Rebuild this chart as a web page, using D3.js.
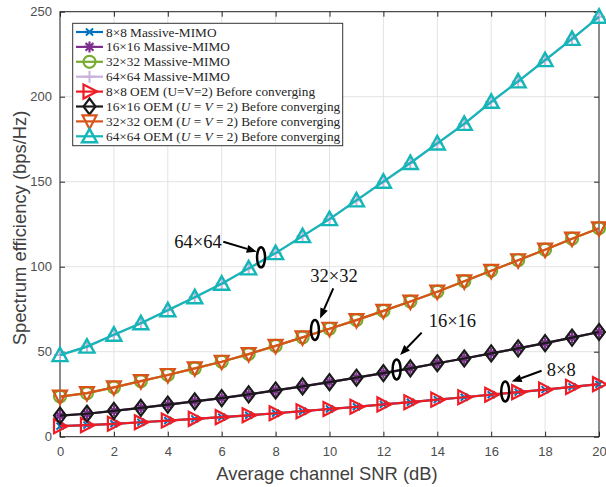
<!DOCTYPE html>
<html><head><meta charset="utf-8">
<script src="https://cdn.jsdelivr.net/npm/d3@7"></script>
<style>body{margin:0;background:#fff}svg{display:block}</style>
</head><body>
<svg id="c" width="606" height="487"></svg>
<script>
const snr = [0,1,2,3,4,5,6,7,8,9,10,11,12,13,14,15,16,17,18,19,20];
const mimo8  = [6.2,6.8,7.6,8.5,9.5,10.5,11.5,12.6,13.8,15,16.3,17.6,19,20.3,21.8,23.2,24.7,26.2,27.7,29.3,30.9];
const mimo16 = [12.4,13.5,15.2,17,18.9,20.8,22.7,24.9,27.2,29.6,32.1,34.7,37.4,40.2,43.2,46,49,52,55,58.3,61.6];
const mimo32 = [23.6,25.6,29,32.7,36.3,40.2,44.1,48.6,53.4,58.4,63.5,68.6,74,79.5,85.3,91.4,97.6,103.8,110,116.5,122.6];
const mimo64 = [48,53,60,66.7,74.4,82,90,99,108,118,128,139,150,161,172.5,184,197,209,221.5,234,247];
const oem8  = [6.2,6.8,7.6,8.5,9.5,10.5,11.5,12.6,13.8,15,16.3,17.6,19,20.3,21.8,23.2,24.7,26.2,27.7,29.3,30.9];
const oem16 = [12.4,13.5,15.2,17,18.9,20.8,22.7,24.9,27.2,29.6,32.1,34.7,37.4,40.2,43.2,46,49,52,55,58.3,61.6];
const oem32 = [23.6,25.6,29,32.7,36.3,40.2,44.1,48.6,53.4,58.4,63.5,68.6,74,79.5,85.3,91.4,97.6,103.8,110,116.5,122.6];
const oem64 = [48,53,60,66.7,74.4,82,90,99,108,118,128,139,150,161,172.5,184,197,209,221.5,234,247];
const xTicks = [0,2,4,6,8,10,12,14,16,18,20];
const yTicks = [0,50,100,150,200,250];
const legendLabels = [
  ["8×8 Massive-MIMO"],
  ["16×16 Massive-MIMO"],
  ["32×32 Massive-MIMO"],
  ["64×64 Massive-MIMO"],
  ["8×8 OEM (U=V=2) Before converging"],
  ["16×16 OEM (", {i:"U"}, " = ", {i:"V"}, " = 2) Before converging"],
  ["32×32 OEM (", {i:"U"}, " = ", {i:"V"}, " = 2) Before converging"],
  ["64×64 OEM (", {i:"U"}, " = ", {i:"V"}, " = 2) Before converging"]
];
// annotations in data units: ellipse center, arrow tail, arrow head, label position
const annotations = [
  {label:"64×64", ex:7.46, ey:105.5, tx:6.06, ty:114.7, hx:7.30, hy:108.8, lx:6.0, ly:111, anchor:"end"},
  {label:"32×32", ex:9.46, ey:62.8, tx:10.14, ty:87.3, hx:9.65, hy:69.6, lx:10.17, ly:91.2, anchor:"middle"},
  {label:"16×16", ex:12.49, ey:39.6, tx:13.42, ty:61.2, hx:12.62, hy:48.1, lx:14.56, ly:64.7, anchor:"middle"},
  {label:"8×8", ex:16.52, ey:26.6, tx:17.87, ty:38.8, hx:16.76, hy:32.4, lx:18.06, ly:35.7, anchor:"start"}
];

const series = [
  {name:"mimo8", vals:mimo8, color:"#0072BD", marker:"x"},
  {name:"mimo16", vals:mimo16, color:"#7E2F8E", marker:"asterisk"},
  {name:"mimo32", vals:mimo32, color:"#77AC30", marker:"circle"},
  {name:"mimo64", vals:mimo64, color:"#C8B1DC", marker:"plus"},
  {name:"oem8", vals:oem8, color:"#EE1C25", marker:"triright"},
  {name:"oem16", vals:oem16, color:"#1a1a1a", marker:"diamond"},
  {name:"oem32", vals:oem32, color:"#D95319", marker:"tridown"},
  {name:"oem64", vals:oem64, color:"#14B6B8", marker:"triup"}
];

const svg = d3.select("#c");
const L=60, R=599, T=11.7, B=436.7;
const x = d3.scaleLinear().domain([0,20]).range([L,R]);
const y = d3.scaleLinear().domain([0,250]).range([B,T]);
const axisCol = "#262626";

// grid
svg.append("g").selectAll("line").data(xTicks).join("line")
  .attr("x1",d=>x(d)).attr("x2",d=>x(d)).attr("y1",T).attr("y2",B)
  .attr("stroke","#e3e3e3").attr("stroke-width",1);
svg.append("g").selectAll("line").data(yTicks).join("line")
  .attr("y1",d=>y(d)).attr("y2",d=>y(d)).attr("x1",L).attr("x2",R)
  .attr("stroke","#e3e3e3").attr("stroke-width",1);

// axes
const tickLen = 5;
function styleAxis(g){
  g.select(".domain").remove();
  g.selectAll(".tick line").attr("stroke",axisCol);
  g.selectAll(".tick text").attr("fill","#4d4d4d").style("font-family","Liberation Sans, Arial, sans-serif").style("font-size","13px");
}
svg.append("g").attr("transform",`translate(0,${B})`)
  .call(d3.axisBottom(x).tickValues(xTicks).tickSizeInner(-tickLen).tickSizeOuter(0).tickPadding(10))
  .call(styleAxis);
svg.append("g").attr("transform",`translate(0,${T})`)
  .call(d3.axisTop(x).tickValues(xTicks).tickSizeInner(-tickLen).tickSizeOuter(0).tickFormat(""))
  .call(styleAxis);
svg.append("g").attr("transform",`translate(${L},0)`)
  .call(d3.axisLeft(y).tickValues(yTicks).tickSizeInner(-tickLen).tickSizeOuter(0).tickPadding(8))
  .call(styleAxis);
svg.append("g").attr("transform",`translate(${R},0)`)
  .call(d3.axisRight(y).tickValues(yTicks).tickSizeInner(-tickLen).tickSizeOuter(0).tickFormat(""))
  .call(styleAxis);
svg.append("rect").attr("x",L).attr("y",T).attr("width",R-L).attr("height",B-T)
  .attr("fill","none").attr("stroke",axisCol).attr("stroke-width",1);

// axis titles
svg.append("text").attr("x",327).attr("y",480).attr("text-anchor","middle")
  .attr("fill","#404040").style("font-family","Liberation Sans, Arial, sans-serif").style("font-size","18.4px")
  .text("Average channel SNR (dB)");
svg.append("text").attr("transform",`translate(25.5,228) rotate(-90)`).attr("text-anchor","middle")
  .attr("fill","#404040").style("font-family","Liberation Sans, Arial, sans-serif").style("font-size","18.4px")
  .text("Spectrum efficiency (bps/Hz)");

// markers
function drawMarker(g, type, color, cx, cy){
  if(type==="x"){
    const s=3.5;
    g.append("path").attr("d",`M${cx-s},${cy-s}L${cx+s},${cy+s}M${cx-s},${cy+s}L${cx+s},${cy-s}`).attr("stroke",color).attr("stroke-width",2).attr("fill","none");
  } else if(type==="asterisk"){
    const s=5.5, d=3.9;
    g.append("path").attr("d",`M${cx-s},${cy}L${cx+s},${cy}M${cx},${cy-s}L${cx},${cy+s}M${cx-d},${cy-d}L${cx+d},${cy+d}M${cx-d},${cy+d}L${cx+d},${cy-d}`).attr("stroke",color).attr("stroke-width",2.2).attr("fill","none");
  } else if(type==="plus"){
    const s=6;
    g.append("path").attr("d",`M${cx-s},${cy}L${cx+s},${cy}M${cx},${cy-s}L${cx},${cy+s}`).attr("stroke",color).attr("stroke-width",2).attr("fill","none");
  } else if(type==="circle"){
    g.append("circle").attr("cx",cx).attr("cy",cy).attr("r",6).attr("stroke",color).attr("stroke-width",2.2).attr("fill","none");
  } else if(type==="diamond"){
    g.append("path").attr("d",`M${cx},${cy-8}L${cx+6},${cy}L${cx},${cy+8}L${cx-6},${cy}Z`).attr("stroke",color).attr("stroke-width",2.2).attr("fill","none");
  } else if(type==="triright"){
    g.append("path").attr("d",`M${cx+7.5},${cy}L${cx-6},${cy-7}L${cx-6},${cy+7}Z`).attr("stroke",color).attr("stroke-width",2.2).attr("fill","none");
  } else if(type==="tridown"){
    g.append("path").attr("d",`M${cx},${cy+7.5}L${cx-7},${cy-6}L${cx+7},${cy-6}Z`).attr("stroke",color).attr("stroke-width",2.2).attr("fill","none");
  } else if(type==="triup"){
    g.append("path").attr("d",`M${cx},${cy-7.5}L${cx-7.5},${cy+6}L${cx+7.5},${cy+6}Z`).attr("stroke",color).attr("stroke-width",2.4).attr("fill","none");
  }
}

const line = d3.line().x((d,i)=>x(snr[i])).y(d=>y(d));
const plotG = svg.append("g");
series.forEach(s=>{
  const g = plotG.append("g");
  g.append("path").attr("d",line(s.vals)).attr("fill","none").attr("stroke",s.color).attr("stroke-width",2.2);
  s.vals.forEach((v,i)=>drawMarker(g,s.marker,s.color,x(snr[i]),y(v)));
});

// annotations
const annG = svg.append("g");
annotations.forEach(a=>{
  annG.append("ellipse").attr("cx",x(a.ex)).attr("cy",y(a.ey)).attr("rx",4).attr("ry",10)
    .attr("fill","none").attr("stroke","#000").attr("stroke-width",2.5);
  const x1=x(a.tx), y1=y(a.ty), x2=x(a.hx), y2=y(a.hy);
  const ang = Math.atan2(y2-y1,x2-x1);
  const hl=10, hw=4;
  const bx = x2-hl*Math.cos(ang), by = y2-hl*Math.sin(ang);
  annG.append("line").attr("x1",x1).attr("y1",y1).attr("x2",bx).attr("y2",by).attr("stroke","#000").attr("stroke-width",2);
  annG.append("path").attr("d",`M${x2},${y2}L${bx+hw*Math.sin(ang)},${by-hw*Math.cos(ang)}L${bx-hw*Math.sin(ang)},${by+hw*Math.cos(ang)}Z`).attr("fill","#000");
  annG.append("text").attr("x",x(a.lx)).attr("y",y(a.ly)).attr("text-anchor",a.anchor)
    .attr("fill","#111").style("font-family","Liberation Serif, Times New Roman, serif").style("font-size","18.5px").text(a.label);
});

// legend
const lg = svg.append("g");
lg.append("rect").attr("x",72.7).attr("y",23.3).attr("width",270).attr("height",122.4)
  .attr("fill","#fff").attr("stroke","#333").attr("stroke-width",1);
series.forEach((s,i)=>{
  const ry = 32 + i*14.9;
  lg.append("line").attr("x1",76).attr("x2",103).attr("y1",ry).attr("y2",ry).attr("stroke",s.color).attr("stroke-width",2.2);
  drawMarker(lg,s.marker,s.color,89.5,ry);
  const t = lg.append("text").attr("x",106).attr("y",ry+4.5).attr("fill","#262626")
    .style("font-family","Liberation Serif, Times New Roman, serif").style("font-size","13.3px");
  legendLabels[i].forEach(part=>{
    if(typeof part==="string") t.append("tspan").text(part);
    else t.append("tspan").style("font-style","italic").text(part.i);
  });
});
</script>
</body></html>
